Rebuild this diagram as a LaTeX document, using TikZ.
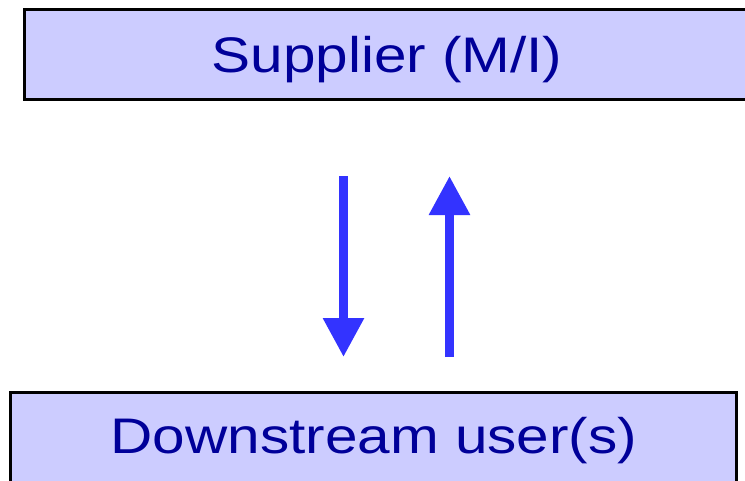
\documentclass[tikz,border=0pt]{standalone}
\usepackage{fontspec}
\setmainfont{Liberation Sans}
\usetikzlibrary{arrows.meta}
\definecolor{boxfill}{HTML}{CCCCFF}
\definecolor{txtblue}{HTML}{000099}
\definecolor{arrblue}{HTML}{3333FF}
\tikzset{
  boxstyle/.style={draw=black, fill=boxfill, inner sep=0pt},
  lbl/.style={text=txtblue, inner sep=0pt, anchor=base, font=\fontsize{50}{50}\selectfont},
  flow/.style={draw=arrblue, line width=9pt, -{Triangle[length=39pt, width=39pt]}}
}
\begin{document}
\begin{tikzpicture}[x=1pt, y=-1pt]
\useasboundingbox (0,0) rectangle (745,480);
\path[boxstyle, line width=2.6pt] (24.5,9.5) rectangle (760,99.5);
\path[boxstyle, line width=2.4pt] (10.5,392.5) rectangle (736.5,500);
\node[lbl] (sup) at (387,72) {\scalebox{1.17}[1]{Supplier (M/I)}};
\node[lbl] (down) at (374,453) {\scalebox{1.17}[1]{Downstream user(s)}};
\coordinate (d1) at (343.5,176);
\coordinate (d2) at (343.5,357);
\coordinate (u1) at (449.5,357);
\coordinate (u2) at (449.5,176);
\draw[flow] (d1) -- (d2);
\draw[flow] (u1) -- (u2);
\end{tikzpicture}
\end{document}
